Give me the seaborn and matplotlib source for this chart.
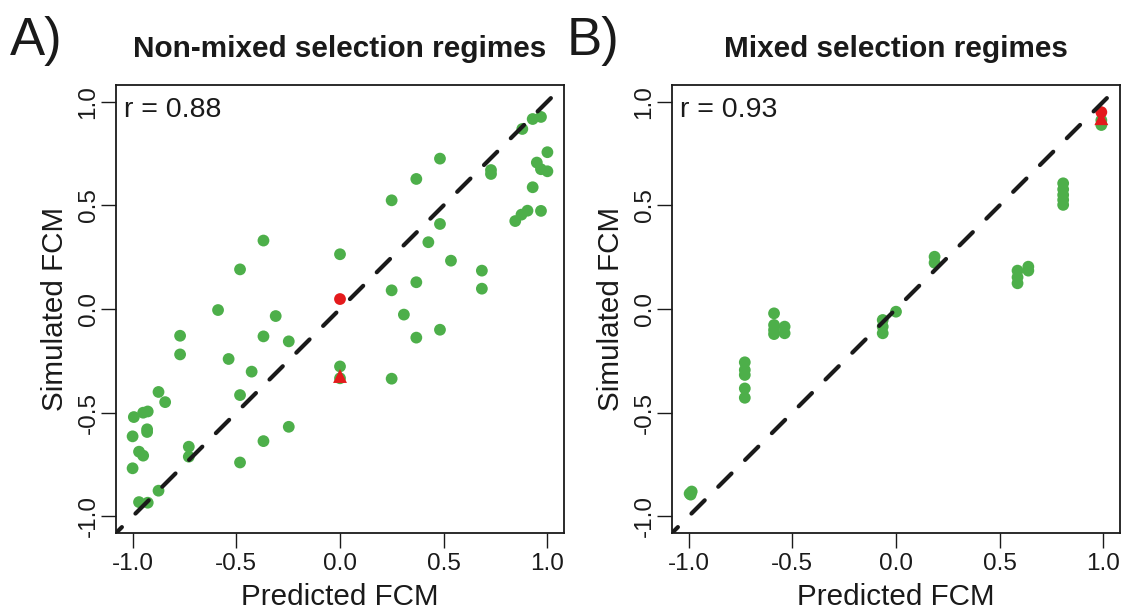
import numpy as np
import pandas as pd
import matplotlib
matplotlib.use("Agg")
import matplotlib.pyplot as plt
import seaborn as sns

# ---------------- data ----------------
tick_values = [-1.0, -0.5, 0.0, 0.5, 1.0]
tick_labels = ["-1.0", "-0.5", "0.0", "0.5", "1.0"]

# Panel A: non-mixed selection regimes (green points)
a_pred = [0.482, 0.368, 0.249, 0.879, 0.929, 0.969, 1.0, 0.949, 0.969, 1.0,
          0.728, 0.728, 0.929, 0.904, 0.875, 0.845, 0.969, 0.482, 0.426, 0.535,
          0.684, 0.684, 0.368, 0.249, 0.308, 0.368, 0.482, 0.249, 0.0, 0.0,
          0.0, -0.369, -0.482, -0.588, -0.310, -0.369, -0.247, -0.771, -0.771, -0.537,
          -0.426, -0.482, -0.875, -0.843, -0.994, -0.949, -0.927, -0.930, -0.930, -1.0,
          -0.969, -0.949, -1.0, -0.729, -0.729, -0.247, -0.369, -0.482, -0.875, -0.969,
          -0.927]
a_sim = [0.725, 0.627, 0.524, 0.868, 0.916, 0.926, 0.756, 0.706, 0.674, 0.664,
         0.670, 0.651, 0.587, 0.474, 0.455, 0.424, 0.473, 0.410, 0.322, 0.233,
         0.185, 0.098, 0.129, 0.090, -0.027, -0.138, -0.100, -0.336, 0.264, -0.277,
         -0.334, 0.330, 0.191, -0.005, -0.034, -0.132, -0.156, -0.129, -0.219, -0.241,
         -0.302, -0.415, -0.400, -0.449, -0.521, -0.500, -0.494, -0.580, -0.593, -0.614,
         -0.688, -0.707, -0.768, -0.664, -0.712, -0.568, -0.637, -0.740, -0.876, -0.931,
         -0.934]
a_red_circle = (0.0, 0.048)
a_red_triangle = (0.0, -0.323)

# Panel B: mixed selection regimes (green points)
b_pred = [-0.995, -0.985, -0.99,
          -0.729, -0.729, -0.729, -0.729, -0.729,
          -0.588, -0.588, -0.588, -0.588, -0.537, -0.537,
          -0.064, -0.064, -0.064, 0.0,
          0.186, 0.186,
          0.586, 0.586, 0.586, 0.638, 0.638,
          0.806, 0.806, 0.806, 0.806, 0.806,
          0.99, 0.99]
b_sim = [-0.89, -0.88, -0.895,
         -0.257, -0.294, -0.318, -0.383, -0.428,
         -0.021, -0.077, -0.101, -0.121, -0.085, -0.117,
         -0.053, -0.085, -0.117, -0.013,
         0.252, 0.223,
         0.185, 0.153, 0.124, 0.204, 0.185,
         0.606, 0.577, 0.550, 0.526, 0.502,
         0.887, 0.91]
b_red_circle = (0.99, 0.949)
b_red_triangle = (0.99, 0.92)

r_values = ["r = 0.88", "r = 0.93"]
titles = ["Non-mixed selection regimes", "Mixed selection regimes"]
panel_tags = ["A)", "B)"]
xlabel = "Predicted FCM"
ylabel = "Simulated FCM"

GREEN = "#4DAF4A"
RED = "#E41A1C"
INK = "#1a1a1a"

# ---------------- style ----------------
sns.set_theme(style="ticks")
plt.rcParams["font.family"] = ["Liberation Sans", "DejaVu Sans"]
plt.rcParams["axes.unicode_minus"] = False

W, H = 1132, 610
fig = plt.figure(figsize=(W / 100, H / 100), dpi=100)

def px_axes(left, top, right, bottom):
    return fig.add_axes([left / W, 1 - bottom / H, (right - left) / W, (bottom - top) / H])

axA = px_axes(116, 85, 564, 533)
axB = px_axes(672, 85, 1120, 533)

panels = [
    (axA, a_pred, a_sim, a_red_circle, a_red_triangle),
    (axB, b_pred, b_sim, b_red_circle, b_red_triangle),
]

for i, (ax, px, py, rc, rt) in enumerate(panels):
    df = pd.DataFrame({"pred": px, "sim": py})
    sns.scatterplot(data=df, x="pred", y="sim", ax=ax, color=GREEN, s=72,
                    edgecolor="none", linewidth=0, zorder=2)
    sns.scatterplot(x=[rc[0]], y=[rc[1]], ax=ax, color=RED, s=72,
                    edgecolor="none", linewidth=0, zorder=3)
    sns.scatterplot(x=[rt[0]], y=[rt[1]], ax=ax, color=RED, s=100, marker="^",
                    edgecolor="none", linewidth=0, zorder=3)
    ax.plot([-1.08, 1.08], [-1.08, 1.08], color=INK, lw=3,
            ls=(2.5, (4.5, 4.6)), dash_capstyle="round", zorder=4)

    ax.set_xlim(-1.08, 1.08)
    ax.set_ylim(-1.08, 1.08)
    ax.set_xticks(tick_values)
    ax.set_xticklabels(tick_labels)
    ax.set_yticks(tick_values)
    ax.set_yticklabels(tick_labels, rotation=90, va="center")
    ax.tick_params(axis="both", direction="out", length=10.8, width=1.0,
                   color=INK, labelsize=17.5, labelcolor=INK)
    ax.tick_params(axis="x", pad=3.5)
    ax.tick_params(axis="y", pad=1)
    for sp in ax.spines.values():
        sp.set_visible(True)
        sp.set_color(INK)
        sp.set_linewidth(1.3)
    ax.set_xlabel(xlabel, fontsize=21.3, color=INK, labelpad=6)
    ax.set_ylabel(ylabel, fontsize=21.3, color=INK, labelpad=6)
    ax.set_title(titles[i], fontsize=21.4, fontweight="bold", color=INK, pad=20)
    ax.text(0.018, 0.929, r_values[i], transform=ax.transAxes, fontsize=20.5,
            color=INK, va="baseline", ha="left")

fig.text(10 / W, 1 - 55 / H, panel_tags[0], fontsize=38, color=INK, va="baseline")
fig.text(567 / W, 1 - 55 / H, panel_tags[1], fontsize=38, color=INK, va="baseline")

fig.savefig("out.png", dpi=100)
